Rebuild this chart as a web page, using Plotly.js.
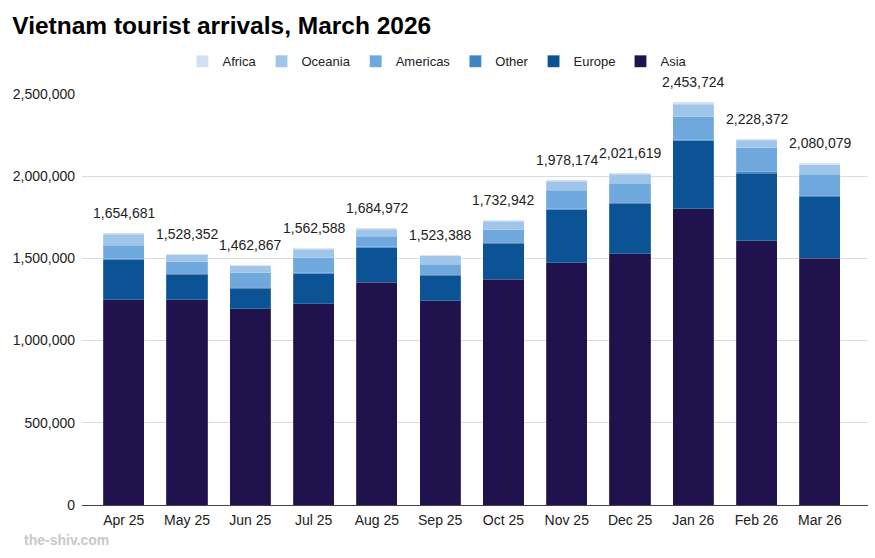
<!DOCTYPE html>
<html>
<head>
<meta charset="utf-8">
<script src="https://cdn.plot.ly/plotly-3.0.1.min.js"></script>
<style>
html,body{margin:0;padding:0;background:#fff;}
#chart{width:875px;height:558px;}
</style>
</head>
<body>
<div id="chart"></div>
<script>
const months = ["Apr 25","May 25","Jun 25","Jul 25","Aug 25","Sep 25","Oct 25","Nov 25","Dec 25","Jan 26","Feb 26","Mar 26"];
const asia     = [1248000,1247000,1193000,1225000,1355000,1242000,1372000,1475000,1528000,1803000,1608000,1502000];
const europe   = [243000,157000,126000,182000,209000,156000,220000,320000,306000,412000,411000,375000];
const other    = [6000,5000,5000,6000,6000,5000,6000,7000,7000,8000,8000,7000];
const americas = [82000,71000,90000,92000,64000,62000,75000,114000,116000,138000,145000,129000];
const oceania  = [68000,41000,42000,50000,43000,51000,52000,54000,56000,78000,47000,58000];
const africa   = [7681,7352,6867,7588,7972,7388,7942,8174,8619,14724,9372,9079];
const totals   = [1654681,1528352,1462867,1562588,1684972,1523388,1732942,1978174,2021619,2453724,2228372,2080079];

const series = [
  {name:"Asia", y:asia, color:"#20124d"},
  {name:"Europe", y:europe, color:"#0b5394"},
  {name:"Other", y:other, color:"#3d85c6"},
  {name:"Americas", y:americas, color:"#6fa8dc"},
  {name:"Oceania", y:oceania, color:"#9fc5e8"},
  {name:"Africa", y:africa, color:"#cfe2f3"}
];

const FONT = "Liberation Sans, Arial, sans-serif";

const traces = series.map(s => ({
  type:"bar", name:s.name, x:months, y:s.y,
  marker:{color:s.color, line:{color:"rgba(255,255,255,0.35)", width:0.5}},
  hoverinfo:"x+y+name"
}));

const annotations = months.map((m,i) => ({
  x:m, y:totals[i], xref:"x", yref:"y",
  text:totals[i].toLocaleString("en-US"),
  showarrow:false, yanchor:"bottom", yshift:10,
  font:{family:FONT, size:14, color:"#222"}
}));
annotations.push({
  xref:"paper", yref:"paper", x:-0.0763, y:-0.085, xanchor:"left", yanchor:"middle",
  text:"<b>the-shiv.com</b>", showarrow:false,
  font:{family:FONT, size:14, color:"#c8c8c8"}
});

const layout = {
  width:875, height:558,
  margin:{l:82, r:7, t:93, b:53},
  paper_bgcolor:"#fff", plot_bgcolor:"#fff",
  font:{family:FONT, size:14, color:"#222"},
  title:{text:"<b>Vietnam tourist arrivals, March 2026</b>", x:0.014, xanchor:"left", y:0.955, yanchor:"middle",
         font:{family:FONT, size:24.5, color:"#000"}},
  barmode:"stack",
  bargap:0.35,
  showlegend:true,
  legend:{orientation:"h", traceorder:"reversed", xref:"container", x:0.5, xanchor:"center",
          yref:"container", y:0.89, yanchor:"middle",
          font:{family:FONT, size:13, color:"#222"}, itemwidth:30},
  xaxis:{type:"category", range:[-0.66,11.76], showgrid:false, showline:true, linecolor:"#444", linewidth:1,
         ticks:"", ticklabelstandoff:2, tickfont:{family:FONT, size:14, color:"#222"}, fixedrange:true},
  yaxis:{range:[0,2506000], tickvals:[0,500000,1000000,1500000,2000000,2500000], tickformat:",d",
         showgrid:true, gridcolor:"#dcdcdc", gridwidth:1, zeroline:false, showline:false,
         ticks:"", ticklabelstandoff:6, tickfont:{family:FONT, size:14, color:"#222"}, fixedrange:true},
  annotations:annotations
};

Plotly.newPlot("chart", traces, layout, {displayModeBar:false, staticPlot:true});
</script>
</body>
</html>
